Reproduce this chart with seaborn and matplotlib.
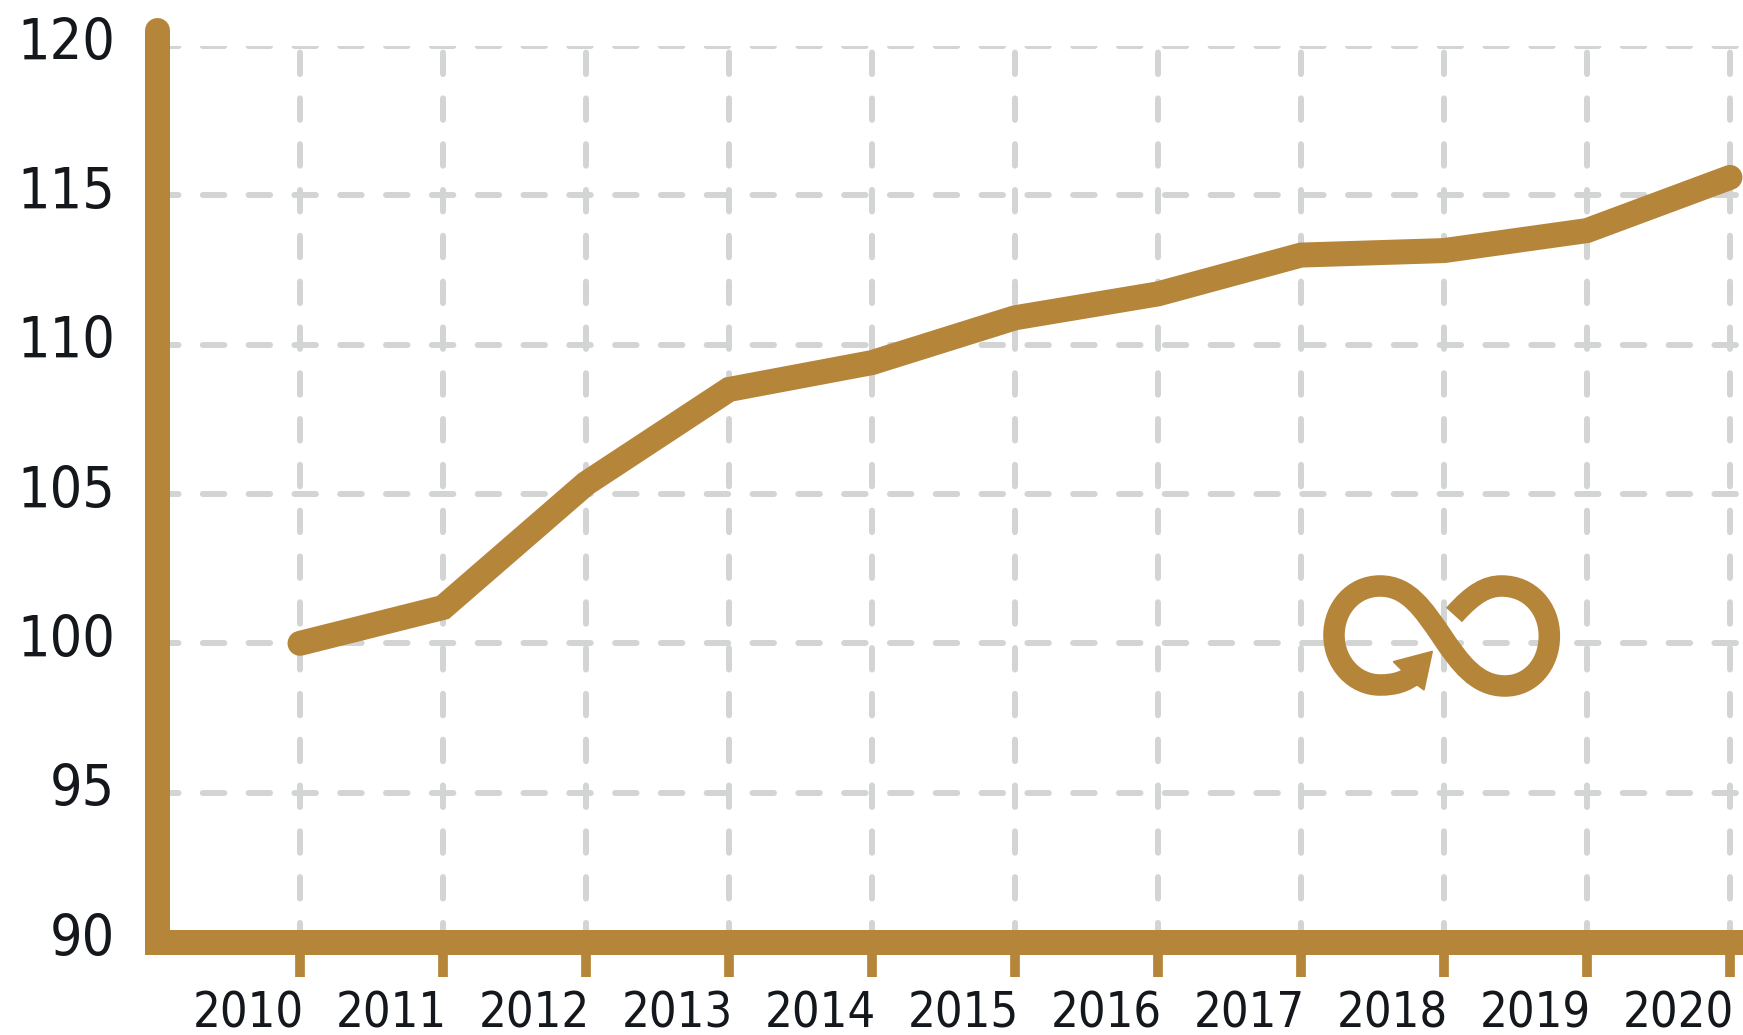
import matplotlib
matplotlib.use('Agg')
import matplotlib.pyplot as plt
import pandas as pd
import seaborn as sns
from matplotlib.patches import PathPatch, Polygon
from matplotlib.path import Path
from matplotlib.transforms import Affine2D, ScaledTranslation

# Valores
anios = [2010, 2011, 2012, 2013, 2014, 2015, 2016, 2017, 2018, 2019, 2020]
valores = [100, 101.2, 105.35, 108.5, 109.4, 110.9, 111.7, 113.0, 113.15, 113.82, 115.6]
marcas_y = [90, 95, 100, 105, 110, 115, 120]

ORO = '#b5853a'
GRIS = '#d3d5d5'
W, H = 1743, 1035

sns.set_theme(style='white')
plt.rcParams['font.family'] = ['DejaVu Sans']
plt.rcParams['font.stretch'] = 'condensed'

fig = plt.figure(figsize=(W / 100, H / 100), dpi=100)
ax = fig.add_axes([157 / W, 1 - 942 / H, 1 - 157 / W, (942 - 46) / H])

datos = pd.DataFrame({'anio': anios, 'valor': valores})
sns.lineplot(data=datos, x='anio', y='valor', color=ORO, linewidth=18, ax=ax,
             solid_capstyle='round', solid_joinstyle='miter', zorder=5)

ax.set_xlim(2009, 2009 + (W - 157) / 143)
ax.set_ylim(90, 120)
ax.set_xticks(anios)
ax.set_yticks(marcas_y)
ax.set_xlabel('')
ax.set_ylabel('')

# Rejilla discontinua
ax.set_axisbelow(True)
ax.grid(True, color=GRIS, linewidth=4.3)
for g in ax.get_xgridlines():
    g.set_linestyle((0.4, (3.6, 4.07)))
    g.set_dash_capstyle('round')
for g in ax.get_ygridlines():
    g.set_linestyle((0, (3.6, 4.07)))
    g.set_dash_capstyle('round')

# Ejes gruesos
for lado in ['top', 'right']:
    ax.spines[lado].set_visible(False)
ax.spines['left'].set_linewidth(18)
ax.spines['left'].set_color(ORO)
ax.spines['left'].set_capstyle('round')
ax.spines['left'].set_bounds(90, 120.54)
ax.spines['left'].set_zorder(1)
ax.spines['bottom'].set_linewidth(18)
ax.spines['bottom'].set_color(ORO)
ax.spines['bottom'].set_zorder(3)

ax.tick_params(axis='x', bottom=True, length=25, width=7, color=ORO, pad=9,
               labelsize=35, labelcolor='#14181c')
ax.tick_params(axis='y', left=False, length=0, pad=30, labelsize=41, labelcolor='#14181c')
for lab in ax.get_xticklabels():
    lab.set_horizontalalignment('right')
    lab.set_transform(lab.get_transform() + ScaledTranslation(4 / 100, 0, fig.dpi_scale_trans))
for lab in ax.get_yticklabels():
    lab.set_transform(lab.get_transform() + ScaledTranslation(0, 8 / 100, fig.dpi_scale_trans))

# Icono de infinito, en pixeles de la imagen
def a_fig(px, py):
    return (1280 + px / 3, H - (550 + py / 3))

verts = [(522, 195), (580, 130), (620, 108), (665, 108),
         (750, 108), (808, 175), (808, 258),
         (808, 345), (750, 408), (675, 408),
         (590, 408), (540, 340), (485, 258),
         (430, 178), (385, 108), (300, 108),
         (220, 108), (162, 175), (162, 255),
         (162, 340), (225, 405), (300, 405),
         (345, 405), (375, 395), (405, 372)]
codigos = [Path.MOVETO] + [Path.CURVE4] * (len(verts) - 1)
icono = Path([a_fig(*v) for v in verts], codigos)
fig.add_artist(PathPatch(icono, facecolor='none', edgecolor=ORO, linewidth=15.5,
                         capstyle='butt', transform=Affine2D(), zorder=6))
punta = [(457, 304), (340, 335), (405, 400), (432, 420)]
fig.add_artist(Polygon([a_fig(*v) for v in punta], closed=True, facecolor=ORO,
                       edgecolor=ORO, linewidth=1, transform=Affine2D(), zorder=6))

fig.savefig('out.png', dpi=100)
